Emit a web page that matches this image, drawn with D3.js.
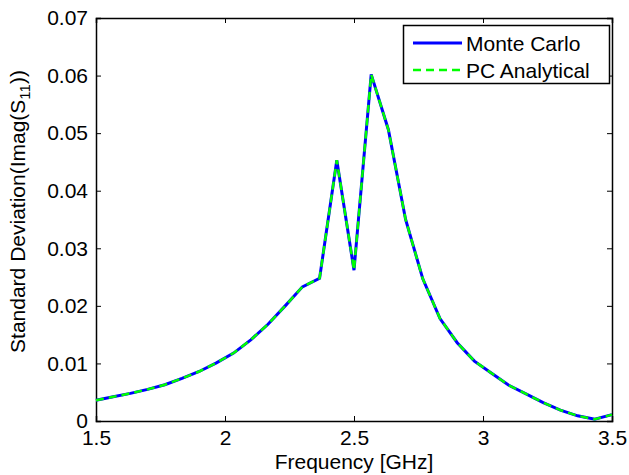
<!DOCTYPE html>
<html>
<head>
  <meta charset="utf-8">
  <title>Standard deviation of Imag(S11)</title>
  <script src="https://d3js.org/d3.v7.min.js"></script>
  <style>
    body { margin: 0; background: #fff; }
    text { font-family: "Liberation Sans", Arial, sans-serif; fill: #000; }
    .axis path, .axis line { stroke: #000; }
  </style>
</head>
<body>
<script>
  const width = 629;
  const height = 475;
  const margin = {top: 18, right: 17, bottom: 54, left: 96};
  const fs = 21;

  // frequency points, 1.5 .. 3.5 GHz in steps of 1/15
  const freq = d3.range(31).map(i => 1.5 + i * 2 / 30);
  const monteCarlo = [
    0.0036, 0.0042, 0.0048, 0.0055, 0.0063, 0.0074, 0.0086, 0.0101,
    0.0118, 0.0141, 0.0168, 0.0200, 0.0233, 0.0248, 0.0453, 0.0262,
    0.0602, 0.0506, 0.0350, 0.0247, 0.0178, 0.0136, 0.0104, 0.0083,
    0.0062, 0.0047, 0.0032, 0.0019, 0.0009, 0.0003, 0.0011
  ];
  const pcAnalytical = monteCarlo.slice();
  const xTicks = [1.5, 2, 2.5, 3, 3.5];
  const yTicks = [0, 0.01, 0.02, 0.03, 0.04, 0.05, 0.06, 0.07];

  const svg = d3.select("body")
    .append("svg")
    .attr("width", width)
    .attr("height", height);

  const x = d3.scaleLinear()
    .domain([1.5, 3.5])
    .range([margin.left, width - margin.right]);

  const y = d3.scaleLinear()
    .domain([0, 0.07])
    .range([height - margin.bottom, margin.top]);

  const fmtX = d => d === 1.5 || d === 2.5 || d === 3.5 ? d.toFixed(1) : d3.format("d")(d);
  const fmtY = d => d === 0 ? "0" : d.toFixed(2);

  // box with inward ticks on all four sides
  svg.append("g").attr("class", "axis")
    .attr("transform", `translate(0,${y(0)})`)
    .call(d3.axisBottom(x).tickValues(xTicks).tickSize(-5).tickPadding(10).tickFormat(fmtX))
    .call(g => g.selectAll("text").attr("font-size", fs).attr("dy", "0.68em"));

  svg.append("g").attr("class", "axis")
    .attr("transform", `translate(0,${y(0.07)})`)
    .call(d3.axisTop(x).tickValues(xTicks).tickSize(-5).tickFormat(""));

  svg.append("g").attr("class", "axis")
    .attr("transform", `translate(${x(1.5)},0)`)
    .call(d3.axisLeft(y).tickValues(yTicks).tickSize(-5).tickPadding(8).tickFormat(fmtY))
    .call(g => g.selectAll("text").attr("font-size", fs));

  svg.append("g").attr("class", "axis")
    .attr("transform", `translate(${x(3.5)},0)`)
    .call(d3.axisRight(y).tickValues(yTicks).tickSize(-5).tickFormat(""));

  svg.selectAll(".axis .domain").attr("stroke-width", 1.5);

  const line = d3.line()
    .x((d, i) => x(freq[i]))
    .y(d => y(d));

  svg.append("path")
    .datum(monteCarlo)
    .attr("fill", "none")
    .attr("stroke", "#0000ff")
    .attr("stroke-width", 3)
    .attr("d", line);

  svg.append("path")
    .datum(pcAnalytical)
    .attr("fill", "none")
    .attr("stroke", "#00ff00")
    .attr("stroke-width", 2.5)
    .attr("stroke-dasharray", "8,5")
    .attr("d", line);

  // axis labels
  svg.append("text")
    .attr("x", (x(1.5) + x(3.5)) / 2)
    .attr("y", 469)
    .attr("text-anchor", "middle")
    .attr("font-size", fs)
    .text("Frequency [GHz]");

  const yl = svg.append("text")
    .attr("transform", `translate(25,${(y(0) + y(0.07)) / 2 - 8}) rotate(-90)`)
    .attr("text-anchor", "middle")
    .attr("font-size", fs);
  yl.append("tspan").text("Standard Deviation(Imag(S");
  yl.append("tspan").attr("font-size", 15).attr("dy", 5).text("11");
  yl.append("tspan").attr("dy", -5).text("))");

  // legend
  const legend = svg.append("g");
  legend.append("rect")
    .attr("x", 403.5).attr("y", 25.5)
    .attr("width", 206).attr("height", 58)
    .attr("fill", "#fff").attr("stroke", "#000").attr("stroke-width", 1.5);

  const items = [
    {name: "Monte Carlo", color: "#0000ff", dash: null, w: 3},
    {name: "PC Analytical", color: "#00ff00", dash: "8,5", w: 2.5}
  ];
  items.forEach((it, i) => {
    const cy = 43 + i * 27;
    legend.append("line")
      .attr("x1", 413).attr("x2", 462)
      .attr("y1", cy).attr("y2", cy)
      .attr("stroke", it.color)
      .attr("stroke-width", it.w)
      .attr("stroke-dasharray", it.dash);
    legend.append("text")
      .attr("x", 466).attr("y", cy + 7.5)
      .attr("font-size", fs)
      .text(it.name);
  });
</script>
</body>
</html>
